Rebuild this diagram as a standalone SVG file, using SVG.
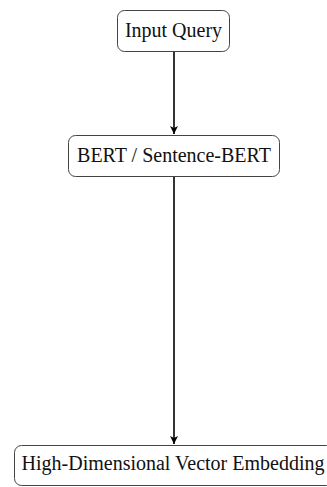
<svg xmlns="http://www.w3.org/2000/svg" width="327" height="487" viewBox="0 0 327 487">
<style>
.box{fill:#fff;stroke:#444;stroke-width:1}
.lbl{font-family:"Liberation Serif","Times New Roman",serif;font-size:20px;fill:#111;text-anchor:middle}
.edge{stroke:#000;stroke-width:1.6;fill:none}
</style>
<defs>
<marker id="arr" markerWidth="10" markerHeight="10" refX="8" refY="5" orient="auto" markerUnits="userSpaceOnUse">
<path d="M0,1 L8,5 L0,9 L2,5 Z" fill="#000"/>
</marker>
</defs>
<rect width="327" height="487" fill="#fff"/>
<g id="edges">
<line class="edge" x1="174" y1="52" x2="174" y2="134" marker-end="url(#arr)"/>
<line class="edge" x1="174" y1="177" x2="174" y2="444" marker-end="url(#arr)"/>
</g>
<g id="input">
<rect class="box" x="117.5" y="10.5" width="112" height="41" rx="7"/>
<text class="lbl" x="173.5" y="37">Input Query</text>
</g>
<g id="bert">
<rect class="box" x="68.5" y="135.5" width="211" height="41" rx="7"/>
<text class="lbl" x="174" y="161.5">BERT / Sentence-BERT</text>
</g>
<g id="embedding">
<rect class="box" x="14.5" y="445.5" width="319" height="40" rx="7"/>
<text class="lbl" x="173" y="469.5">High-Dimensional Vector Embedding</text>
</g>
</svg>
